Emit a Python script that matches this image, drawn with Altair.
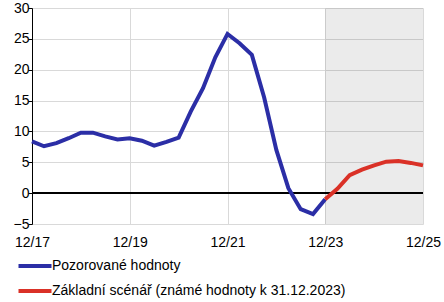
import altair as alt
import pandas as pd

OBS = "Pozorované hodnoty"
FC = "Základní scénář (známé hodnoty k 31.12.2023)"

# quarters (month-start dates of the last month of each quarter)
obs_dates = pd.date_range("2017-12-01", periods=25, freq="3MS").strftime("%Y-%m-%d").tolist()
obs_values = [8.4, 7.6, 8.1, 8.9, 9.8, 9.8, 9.2, 8.7, 8.9, 8.5, 7.7, 8.3, 9.0,
              13.2, 17.0, 22.0, 25.8, 24.3, 22.4, 15.5, 7.0, 0.8, -2.6, -3.4, -1.0]

fc_dates = pd.date_range("2023-12-01", periods=9, freq="3MS").strftime("%Y-%m-%d").tolist()
fc_values = [-1.0, 0.7, 2.9, 3.8, 4.5, 5.1, 5.2, 4.9, 4.5]

band_start = ["2023-12-01"]
band_end = ["2025-12-01"]

y_ticks = [-5, 0, 5, 10, 15, 20, 25, 30]

df = pd.concat([
    pd.DataFrame({"date": obs_dates, "value": obs_values, "series": OBS}),
    pd.DataFrame({"date": fc_dates, "value": fc_values, "series": FC}),
])
band = pd.DataFrame({"start": band_start, "end": band_end})

FONT = "Liberation Sans"
BLUE = "#2B2EA6"
RED = "#DA3127"
GRID = "#D9D9D9"

x_dom = [alt.DateTime(year=2017, month=12, date=1, utc=True),
         alt.DateTime(year=2025, month=12, date=1, utc=True)]
x_ticks = [alt.DateTime(year=y, month=12, date=1, utc=True) for y in [2017, 2019, 2021, 2023, 2025]]

x_scale = alt.Scale(type="utc", domain=x_dom)
y_scale = alt.Scale(domain=[-5, 30], nice=False)

band_layer = alt.Chart(band).mark_rect(color="#000000", opacity=0.08).encode(
    x=alt.X("start:T", scale=x_scale),
    x2="end:T",
)

zero = alt.Chart(df).mark_rule(color="#000000", strokeWidth=1).encode(
    y=alt.datum(0))

lines = alt.Chart(df).mark_line(strokeWidth=4).encode(
    x=alt.X("date:T", scale=x_scale, title=None,
            axis=alt.Axis(values=x_ticks, tickCount=10, format="%m/%y", grid=True,
                          gridColor=GRID, ticks=False, domain=False, labelPadding=11,
                          labelFlush=False, labelOverlap=False,
                          labelFontSize=14, labelFont=FONT, labelColor="#000000")),
    y=alt.Y("value:Q", scale=y_scale, title=None,
            axis=alt.Axis(values=y_ticks, tickCount=10, grid=True, gridColor=GRID,
                          domainColor="#000000", tickColor="#000000", tickSize=4,
                          labelPadding=-1, labelOverlap=False, labelFlush=False,
                          labelFontSize=14, labelFont=FONT,
                          labelColor="#000000")),
    color=alt.Color("series:N", title=None,
                    scale=alt.Scale(domain=[OBS, FC], range=[BLUE, RED]),
                    legend=alt.Legend(orient="none", legendX=-9, legendY=246,
                                      symbolType="M-1.65,0L1.65,0", symbolSize=400,
                                      symbolStrokeWidth=4, rowPadding=5,
                                      labelFontSize=14, labelFont=FONT,
                                      labelColor="#000000", labelOffset=5,
                                      labelLimit=0, padding=0)),
)

chart = alt.layer(band_layer, zero, lines).properties(
    width=391, height=216,
    autosize=alt.AutoSizeParams(type="none"),
    padding={"left": 32, "top": 8, "right": 21, "bottom": 78},
).configure_view(stroke=None)

chart.save("out.html", embed_options={"renderer": "svg", "actions": False})
